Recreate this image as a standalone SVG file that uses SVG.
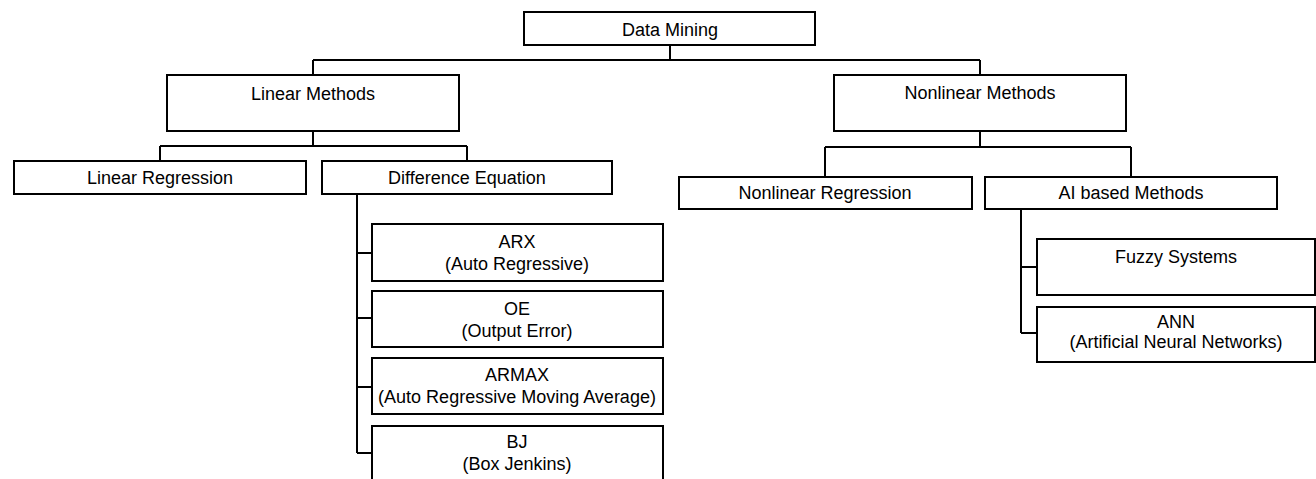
<svg xmlns="http://www.w3.org/2000/svg" width="1316" height="479" viewBox="0 0 1316 479">
  <style>
    .box { fill: #ffffff; stroke: #000000; stroke-width: 2; }
    .ln { fill: none; stroke: #000000; stroke-width: 2; }
    text { font-family: "Liberation Sans", Arial, sans-serif; font-size: 18px; fill: #000000; text-anchor: middle; }
  </style>
  <rect width="1316" height="479" fill="#ffffff"/>
  <g id="connectors">
    <path class="ln" d="M670 45 V60 M313 60 H980 M313 60 V75 M980 60 V75"/>
    <path class="ln" d="M313 131 V146 M160 146 H467 M160 146 V161 M467 146 V161"/>
    <path class="ln" d="M980 131 V147 M825 147 H1131 M825 147 V177 M1131 147 V177"/>
    <path class="ln" d="M357 194 V453 M357 253 H372 M357 318 H372 M357 387 H372 M357 453 H372"/>
    <path class="ln" d="M1021 209 V333 M1021 267 H1037 M1021 333 H1037"/>
  </g>
  <g id="data-mining">
    <rect class="box" x="524" y="12" width="291" height="33"/>
    <text x="670" y="36">Data Mining</text>
  </g>
  <g id="linear-methods">
    <rect class="box" x="167" y="75" width="292" height="56"/>
    <text x="313" y="100">Linear Methods</text>
  </g>
  <g id="nonlinear-methods">
    <rect class="box" x="834" y="75" width="292" height="56"/>
    <text x="980" y="99">Nonlinear Methods</text>
  </g>
  <g id="linear-regression">
    <rect class="box" x="14" y="161" width="292" height="33"/>
    <text x="160" y="184">Linear Regression</text>
  </g>
  <g id="difference-equation">
    <rect class="box" x="322" y="161" width="290" height="33"/>
    <text x="467" y="184">Difference Equation</text>
  </g>
  <g id="nonlinear-regression">
    <rect class="box" x="679" y="177" width="293" height="32"/>
    <text x="825" y="199">Nonlinear Regression</text>
  </g>
  <g id="ai-based-methods">
    <rect class="box" x="985" y="177" width="292" height="32"/>
    <text x="1131" y="199">AI based Methods</text>
  </g>
  <g id="arx">
    <rect class="box" x="372" y="224" width="291" height="57"/>
    <text x="517" y="248">ARX</text>
    <text x="517" y="270">(Auto Regressive)</text>
  </g>
  <g id="oe">
    <rect class="box" x="372" y="291" width="291" height="56"/>
    <text x="517" y="315">OE</text>
    <text x="517" y="337">(Output Error)</text>
  </g>
  <g id="armax">
    <rect class="box" x="372" y="358" width="291" height="56"/>
    <text x="517" y="381">ARMAX</text>
    <text x="517" y="403">(Auto Regressive Moving Average)</text>
  </g>
  <g id="bj">
    <rect class="box" x="372" y="426" width="291" height="60"/>
    <text x="517" y="448">BJ</text>
    <text x="517" y="470">(Box Jenkins)</text>
  </g>
  <g id="fuzzy-systems">
    <rect class="box" x="1037" y="239" width="278" height="56"/>
    <text x="1176" y="263">Fuzzy Systems</text>
  </g>
  <g id="ann">
    <rect class="box" x="1037" y="307" width="278" height="55"/>
    <text x="1176" y="328">ANN</text>
    <text x="1176" y="348">(Artificial Neural Networks)</text>
  </g>
</svg>
